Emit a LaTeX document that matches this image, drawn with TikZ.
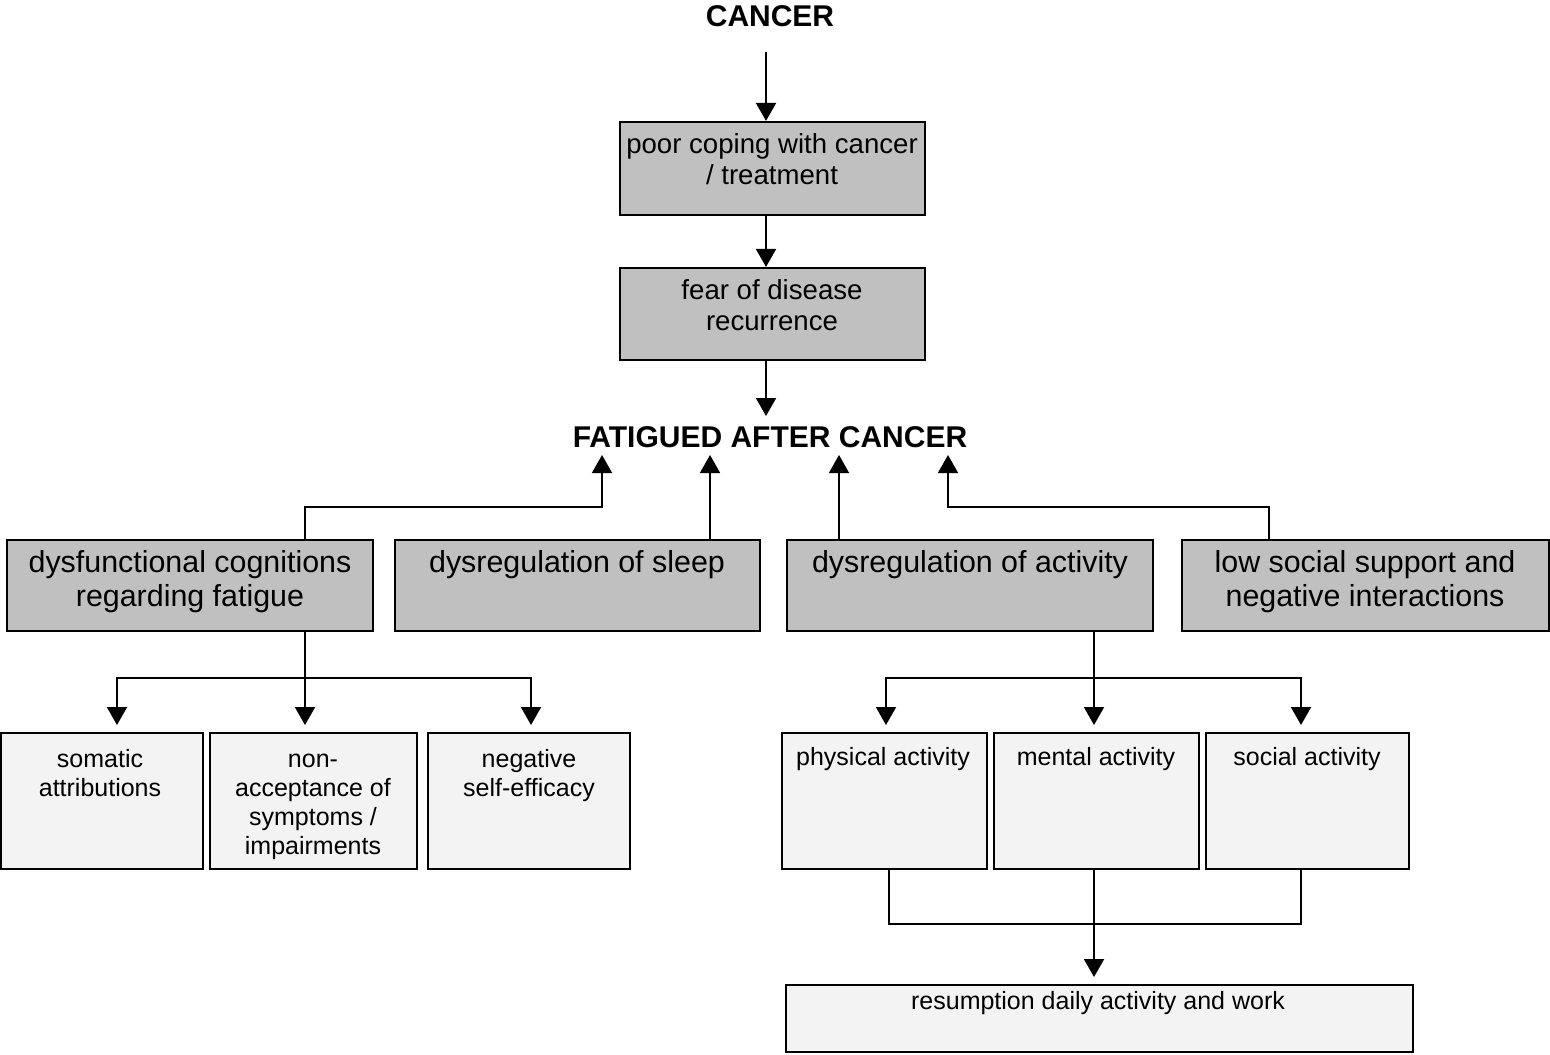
\documentclass[tikz,border=0pt]{standalone}
\usepackage{fontspec}
\setmainfont{Liberation Sans}
\usetikzlibrary{arrows.meta}
\definecolor{boxgray}{HTML}{C0C0C0}
\definecolor{boxlight}{HTML}{F3F3F3}
\begin{document}
\begin{tikzpicture}[x=0.5pt,y=-0.5pt,
  gbox/.style={draw, line width=1.1pt, fill=boxgray, inner sep=0pt},
  lbox/.style={draw, line width=0.7pt, fill=boxlight, inner sep=0pt},
  ttl/.style={font=\fontsize{15}{17}\selectfont\bfseries, inner sep=0pt, anchor=base},
  tmid/.style={font=\fontsize{13.8}{15.5}\selectfont, align=center, inner sep=0pt, anchor=base},
  trow/.style={font=\fontsize{15.2}{17}\selectfont, align=center, inner sep=0pt, anchor=base},
  tsml/.style={font=\fontsize{12.5}{14.5}\selectfont, align=center, inner sep=0pt, anchor=base},
  arr/.style={line width=1pt, -{Triangle[length=9pt,width=10pt]}},
  uarr/.style={line width=0.75pt, -{Triangle[length=9pt,width=10pt]}},
  ln/.style={line width=1pt},
]
\useasboundingbox (0,0) rectangle (1550,1054);

% titles
\node[ttl] (cancer) at (770,26.5) {CANCER};
\node[ttl] (fatigued) at (770,447.5) {FATIGUED AFTER CANCER};

% top boxes (text nodes anchored at the baseline of their last line)
\node[gbox, minimum width=152.5pt, minimum height=46.5pt] (b1) at (772.5,168.5) {};
\node[tmid] (b1t) at (772,184.5) {poor coping with cancer\\/ treatment};
\node[gbox, minimum width=152.5pt, minimum height=46pt] (b2) at (772.5,314) {};
\node[tmid] (b2t) at (772,330.5) {fear of disease\\recurrence};

% row boxes
\node[gbox, minimum width=183pt, minimum height=45.5pt] (A) at (190,585.5) {};
\node[trow] (At) at (190,606) {dysfunctional cognitions\\regarding fatigue};
\node[gbox, minimum width=182.5pt, minimum height=45.5pt] (B) at (577.5,585.5) {};
\node[trow] (Bt) at (577,572) {dysregulation of sleep};
\node[gbox, minimum width=183pt, minimum height=45.5pt] (C) at (970,585.5) {};
\node[trow] (Ct) at (970,572) {dysregulation of activity};
\node[gbox, minimum width=183.5pt, minimum height=45.5pt] (D) at (1365.5,585.5) {};
\node[trow] (Dt) at (1365,606) {low social support and\\negative interactions};

% small boxes left
\node[lbox, minimum width=101pt, minimum height=68pt] (S1) at (102,801) {};
\node[tsml] (S1t) at (100,796) {somatic\\attributions};
\node[lbox, minimum width=103.5pt, minimum height=68pt] (S2) at (313.5,801) {};
\node[tsml] (S2t) at (313,854) {non-\\acceptance of\\symptoms /\\impairments};
\node[lbox, minimum width=101pt, minimum height=68pt] (S3) at (529,801) {};
\node[tsml] (S3t) at (529,796) {negative\\self-efficacy};

% small boxes right
\node[lbox, minimum width=102.5pt, minimum height=68pt] (P1) at (884.5,801) {};
\node[tsml] (P1t) at (883,765.5) {physical activity};
\node[lbox, minimum width=102.5pt, minimum height=68pt] (P2) at (1096.5,801) {};
\node[tsml] (P2t) at (1096,765.5) {mental activity};
\node[lbox, minimum width=101.5pt, minimum height=68pt] (P3) at (1307.5,801) {};
\node[tsml] (P3t) at (1307,765.5) {social activity};

% bottom box
\node[lbox, minimum width=313.5pt, minimum height=33.5pt] (R) at (1099.5,1018.5) {};
\node[tsml] (Rt) at (1098,1009.5) {resumption daily activity and work};

% coordinates
\coordinate (c0) at (766,52);
\coordinate (f0) at (766,416);
\coordinate (xa) at (305,0);
\coordinate (ka) at (602,507);
\coordinate (ua) at (602,455);
\coordinate (ub) at (710,455);
\coordinate (uc) at (839,455);
\coordinate (xd) at (1269,0);
\coordinate (kd) at (948,507);
\coordinate (ud) at (948,455);
\coordinate (jA) at (305,678);
\coordinate (t1) at (117,725);
\coordinate (t2) at (305,725);
\coordinate (t3) at (531,725);
\coordinate (xc) at (1094,0);
\coordinate (jC) at (1094,678);
\coordinate (t4) at (886,725);
\coordinate (t5) at (1094,725);
\coordinate (t6) at (1301,725);
\coordinate (m1) at (889,0);
\coordinate (m3) at (1301,0);
\coordinate (mj) at (1094,924);
\coordinate (rt) at (1094,977);

% top chain
\draw[arr] (c0) -- (c0 |- b1.north);
\draw[arr] (b1.south -| c0) -- (b2.north -| c0);
\draw[arr] (b2.south -| c0) -- (f0);

% up arrows
\draw[uarr] (A.north -| xa) |- (ka) -- (ua);
\draw[uarr] (B.north -| ub) -- (ub);
\draw[uarr] (C.north -| uc) -- (uc);
\draw[uarr] (D.north -| xd) |- (kd) -- (ud);

% left branches
\draw[arr] (A.south -| xa) -- (t2);
\draw[arr] (jA) -| (t1);
\draw[arr] (jA) -| (t3);

% right branches
\draw[arr] (C.south -| xc) -- (t5);
\draw[arr] (jC) -| (t4);
\draw[arr] (jC) -| (t6);

% merge
\draw[ln] (P1.south -| m1) |- (mj) -| (P3.south -| m3);
\draw[arr] (P2.south -| mj) -- (rt);
\end{tikzpicture}
\end{document}
